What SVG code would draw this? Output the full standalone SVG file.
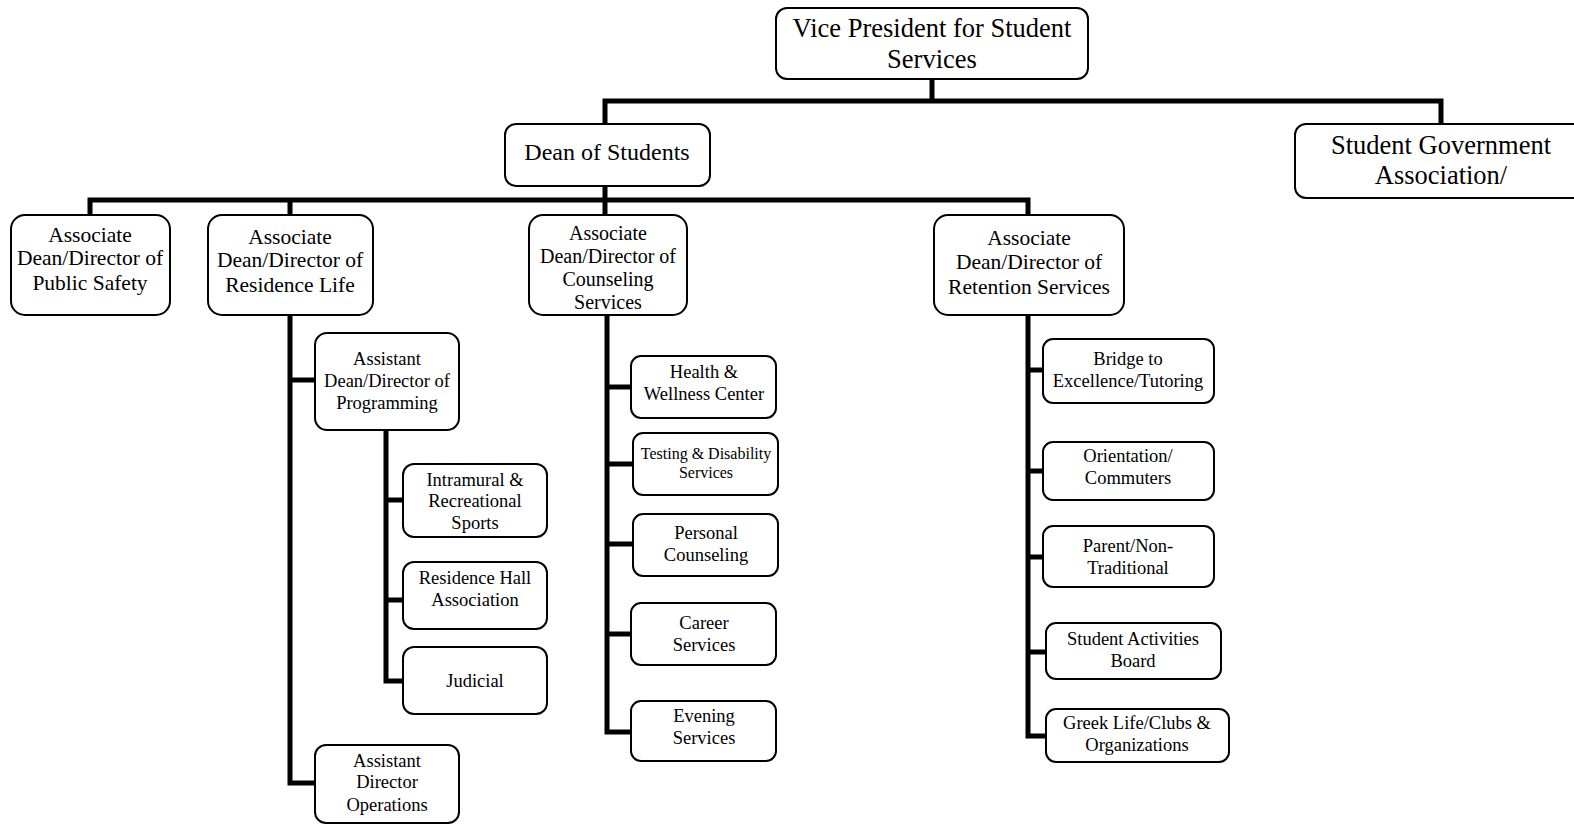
<svg xmlns="http://www.w3.org/2000/svg" width="1574" height="824" viewBox="0 0 1574 824">
<style>
.box{fill:#fff;stroke:#000;stroke-width:2}
.c{fill:none;stroke:#000;stroke-width:5;stroke-linejoin:miter;stroke-linecap:square}
text{font-family:"Liberation Serif","Times New Roman",serif;fill:#000;text-anchor:middle}
.t26{font-size:26.5px}.t24{font-size:24px}.t21{font-size:21.5px}.t20{font-size:20px}.t18{font-size:18.5px}.t16{font-size:16px}
</style>
<rect width="1574" height="824" fill="#fff"/>
<g id="connectors">
<path class="c" d="M932 79V101M605 101H1441M605 101V124M1441 101V124"/>
<path class="c" d="M605 186V200M90 200H1028M90 200V215M290 200V215M605 200V215M1028 200V215"/>
<path class="c" d="M290 315V783H315M290 380H315"/>
<path class="c" d="M386 430V681H403M386 500H403M386 600H403"/>
<path class="c" d="M607 315V732H631M607 387H631M607 464H633M607 544H633M607 634H631"/>
<path class="c" d="M1028 315V736H1046M1028 370H1043M1028 471H1043M1028 557H1043M1028 652H1046"/>
</g>
<g id="vp"><rect class="box" x="776" y="8" width="312" height="71" rx="11"/><text class="t26" x="932" y="37">Vice President for Student</text><text class="t26" x="932" y="68">Services</text></g>
<g id="dean"><rect class="box" x="505" y="124" width="205" height="62" rx="11"/><text class="t24" x="607" y="160">Dean of Students</text></g>
<g id="sga"><rect class="box" x="1295" y="124" width="300" height="74" rx="11"/><text class="t26" x="1441" y="154">Student Government</text><text class="t26" x="1441" y="184">Association/</text></g>
<g id="public-safety"><rect class="box" x="11" y="215" width="159" height="100" rx="14"/><text class="t21" x="90" y="242">Associate</text><text class="t21" x="90" y="265">Dean/Director of</text><text class="t21" x="90" y="290">Public Safety</text></g>
<g id="residence-life"><rect class="box" x="208" y="215" width="165" height="100" rx="14"/><text class="t21" x="290" y="244">Associate</text><text class="t21" x="290" y="267">Dean/Director of</text><text class="t21" x="290" y="292">Residence Life</text></g>
<g id="counseling"><rect class="box" x="529" y="215" width="158" height="100" rx="14"/><text class="t20" x="608" y="240">Associate</text><text class="t20" x="608" y="263">Dean/Director of</text><text class="t20" x="608" y="286">Counseling</text><text class="t20" x="608" y="309">Services</text></g>
<g id="retention"><rect class="box" x="934" y="215" width="190" height="100" rx="14"/><text class="t21" x="1029" y="245">Associate</text><text class="t21" x="1029" y="269">Dean/Director of</text><text class="t21" x="1029" y="294">Retention Services</text></g>
<g id="programming"><rect class="box" x="315" y="333" width="144" height="97" rx="12"/><text class="t18" x="387" y="365">Assistant</text><text class="t18" x="387" y="387">Dean/Director of</text><text class="t18" x="387" y="409">Programming</text></g>
<g id="intramural"><rect class="box" x="403" y="464" width="144" height="73" rx="11"/><text class="t18" x="475" y="486">Intramural &amp;</text><text class="t18" x="475" y="507">Recreational</text><text class="t18" x="475" y="529">Sports</text></g>
<g id="rha"><rect class="box" x="403" y="562" width="144" height="67" rx="11"/><text class="t18" x="475" y="584">Residence Hall</text><text class="t18" x="475" y="606">Association</text></g>
<g id="judicial"><rect class="box" x="403" y="647" width="144" height="67" rx="11"/><text class="t18" x="475" y="687">Judicial</text></g>
<g id="operations"><rect class="box" x="315" y="745" width="144" height="78" rx="11"/><text class="t18" x="387" y="767">Assistant</text><text class="t18" x="387" y="788">Director</text><text class="t18" x="387" y="811">Operations</text></g>
<g id="health"><rect class="box" x="631" y="356" width="145" height="62" rx="10"/><text class="t18" x="704" y="378">Health &amp;</text><text class="t18" x="704" y="400">Wellness Center</text></g>
<g id="testing"><rect class="box" x="633" y="433" width="145" height="62" rx="10"/><text class="t16" x="706" y="459">Testing &amp; Disability</text><text class="t16" x="706" y="478">Services</text></g>
<g id="personal"><rect class="box" x="633" y="514" width="145" height="62" rx="10"/><text class="t18" x="706" y="539">Personal</text><text class="t18" x="706" y="561">Counseling</text></g>
<g id="career"><rect class="box" x="631" y="603" width="145" height="62" rx="10"/><text class="t18" x="704" y="629">Career</text><text class="t18" x="704" y="651">Services</text></g>
<g id="evening"><rect class="box" x="631" y="701" width="145" height="60" rx="10"/><text class="t18" x="704" y="722">Evening</text><text class="t18" x="704" y="744">Services</text></g>
<g id="bridge"><rect class="box" x="1043" y="339" width="171" height="64" rx="10"/><text class="t18" x="1128" y="365">Bridge to</text><text class="t18" x="1128" y="387">Excellence/Tutoring</text></g>
<g id="orientation"><rect class="box" x="1043" y="442" width="171" height="58" rx="10"/><text class="t18" x="1128" y="462">Orientation/</text><text class="t18" x="1128" y="484">Commuters</text></g>
<g id="parent"><rect class="box" x="1043" y="526" width="171" height="61" rx="10"/><text class="t18" x="1128" y="552">Parent/Non-</text><text class="t18" x="1128" y="574">Traditional</text></g>
<g id="sab"><rect class="box" x="1046" y="623" width="175" height="56" rx="10"/><text class="t18" x="1133" y="645">Student Activities</text><text class="t18" x="1133" y="667">Board</text></g>
<g id="greek"><rect class="box" x="1046" y="709" width="183" height="53" rx="10"/><text class="t18" x="1137" y="729">Greek Life/Clubs &amp;</text><text class="t18" x="1137" y="751">Organizations</text></g>
</svg>
